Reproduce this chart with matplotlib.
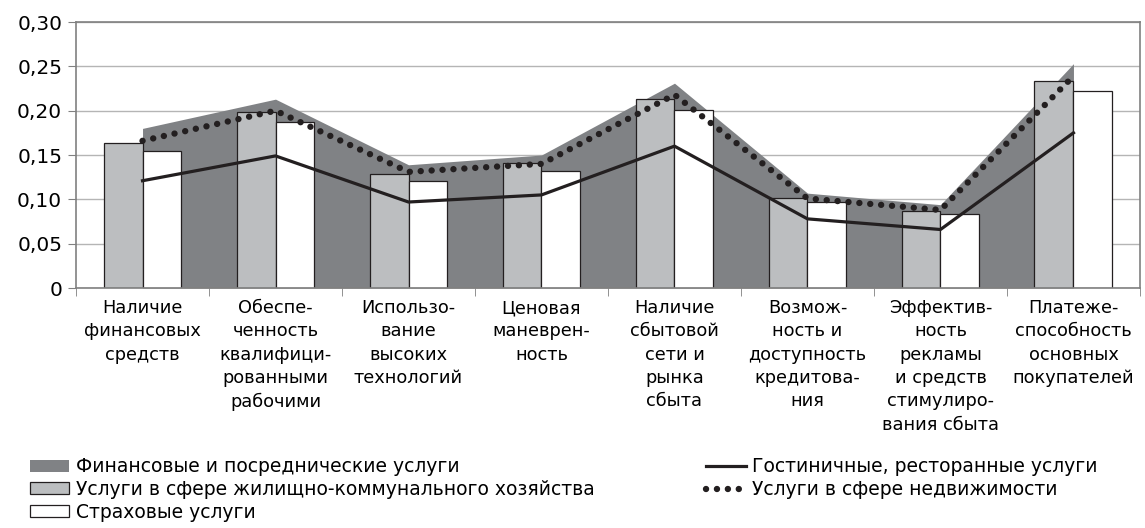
import numpy as np
import matplotlib.pyplot as plt
from matplotlib.patches import Patch
from matplotlib.lines import Line2D
from matplotlib.ticker import FuncFormatter

plt.rcParams['font.family'] = ['DejaVu Sans']

# ── данные ────────────────────────────────────────────────────────────────────
categories = [
    'Наличие\nфинансовых\nсредств',
    'Обеспе-\nченность\nквалифици-\nрованными\nрабочими',
    'Использо-\nвание\nвысоких\nтехнологий',
    'Ценовая\nманеврен-\nность',
    'Наличие\nсбытовой\nсети и\nрынка\nсбыта',
    'Возмож-\nность и\nдоступность\nкредитова-\nния',
    'Эффектив-\nность\nрекламы\nи средств\nстимулиро-\nвания сбыта',
    'Платеже-\nспособность\nосновных\nпокупателей',
]
finance   = [0.180, 0.213, 0.139, 0.150, 0.231, 0.107, 0.094, 0.253]
housing   = [0.164, 0.198, 0.129, 0.141, 0.213, 0.102, 0.087, 0.234]
insurance = [0.155, 0.187, 0.121, 0.132, 0.201, 0.097, 0.084, 0.222]
hotels    = [0.121, 0.149, 0.097, 0.105, 0.160, 0.078, 0.066, 0.175]
realty    = [0.166, 0.200, 0.131, 0.140, 0.218, 0.101, 0.088, 0.239]

labels = [
    'Финансовые и посреднические услуги',
    'Услуги в сфере жилищно-коммунального хозяйства',
    'Страховые услуги',
    'Гостиничные, ресторанные услуги',
    'Услуги в сфере недвижимости',
]

AREA_C = '#808285'
BAR_C  = '#bcbec0'
EDGE_C = '#231f20'
LINE_C = '#231f20'
DOTS   = (0, (0.01, 1.7))
DOT_LW = 4.6

fig = plt.figure(figsize=(11.45, 5.28), dpi=100)
ax = fig.add_axes([0.0664, 0.4545, 0.9292, 0.5038])

x = np.arange(len(categories))
w = 0.293

ax.fill_between(x, finance, 0, color=AREA_C, lw=0, zorder=1)
ax.bar(x - w / 2, housing, w, color=BAR_C, edgecolor=EDGE_C, lw=0.9, zorder=2)
ax.bar(x + w / 2, insurance, w, color='white', edgecolor=EDGE_C, lw=0.9, zorder=2)
ax.plot(x, hotels, color=LINE_C, lw=2.3, zorder=3)
ax.plot(x, realty, color=LINE_C, lw=DOT_LW, linestyle=DOTS,
        dash_capstyle='round', zorder=4)

# ── оси ───────────────────────────────────────────────────────────────────────
ax.set_xlim(-0.5, 7.5)
ax.set_ylim(0, 0.30)
ax.set_yticks(np.arange(0, 0.31, 0.05))
ax.yaxis.set_major_formatter(FuncFormatter(
    lambda v, p: '0' if abs(v) < 1e-9 else f'{v:.2f}'.replace('.', ',')))
ax.tick_params(axis='y', length=6, color='#808080', labelsize=14.5, pad=4)
ax.grid(axis='y', color='#b5b5b5', lw=1)
ax.set_axisbelow(True)

ax.set_xticks(x)
ax.set_xticklabels(categories, fontsize=12.8, linespacing=1.38, va='top')
ax.tick_params(axis='x', which='major', length=0, pad=8)
ax.set_xticks(np.arange(-0.5, 8, 1), minor=True)
ax.tick_params(axis='x', which='minor', length=6, color='#808080')

for s in ax.spines.values():
    s.set_color('#808080')
    s.set_linewidth(1.2)

# ── легенда ───────────────────────────────────────────────────────────────────
h_left = [
    Patch(facecolor=AREA_C, edgecolor='none'),
    Patch(facecolor=BAR_C, edgecolor=EDGE_C, lw=0.9),
    Patch(facecolor='white', edgecolor=EDGE_C, lw=0.9),
]
h_right = [
    Line2D([], [], color=LINE_C, lw=2.3),
    Line2D([], [], color=LINE_C, lw=DOT_LW, linestyle=DOTS, dash_capstyle='round'),
]
kw = dict(frameon=False, fontsize=13.5, handlelength=2.1, handleheight=0.6,
          handletextpad=0.35, labelspacing=0.2, borderpad=0, borderaxespad=0,
          loc='upper left')
fig.legend(h_left, labels[:3], bbox_to_anchor=(0.026, 0.134), **kw)
fig.legend(h_right, labels[3:], bbox_to_anchor=(0.617, 0.134), **kw)

plt.savefig('out.png', dpi=100)
